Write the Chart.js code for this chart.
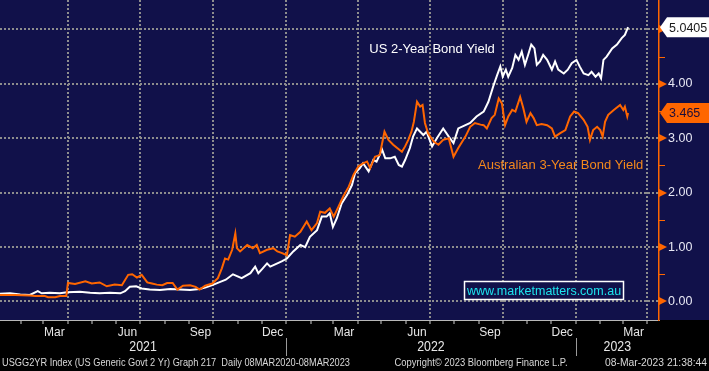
<!DOCTYPE html>
<html><head><meta charset="utf-8">
<style>html,body{margin:0;padding:0;background:#000;overflow:hidden}#wrap{width:709px;height:371px}</style>
<script src="https://cdn.jsdelivr.net/npm/chart.js@4.4.1/dist/chart.umd.min.js"></script>
</head><body><div id="wrap"><canvas id="c" width="709" height="371"></canvas></div>
<script>
// ---------------- data ----------------
// x values: days since 1 Jan 2021 (last point = 8 Mar 2023)
const seriesNames = ['US 2-Year Bond Yield', 'Australian 3-Year Bond Yield'];
const usDays = [
  3,17,30,42,52,57,67,80,89,105,
  118,130,143,156,162,168,176,183,193,206,
  219,231,244,256,264,272,282,289,298,309,
  320,326,330,335,341,345,354,360,366,374,
  383,389,395,404,410,416,420,424,429,435,
  442,448,452,458,462,469,475,479,486,490,
  496,502,507,511,515,521,525,530,534,538,
  542,549,555,563,570,576,582,591,597,605,
  614,620,626,631,635,638,642,645,650,654,
  658,662,666,670,674,678,681,685,689,694,
  700,704,708,715,720,725,731,735,740,746,
  750,755,759,762,765,769,776,782,788,792,
  796
];
const us2y = [
  0.14,0.15,0.13,0.12,0.19,0.15,0.16,0.15,0.17,0.18,
  0.16,0.15,0.16,0.15,0.19,0.27,0.28,0.24,0.22,0.21,
  0.23,0.22,0.21,0.23,0.26,0.30,0.36,0.40,0.50,0.43,
  0.52,0.64,0.52,0.60,0.70,0.64,0.70,0.74,0.79,0.92,
  1.04,1.00,1.19,1.31,1.56,1.56,1.62,1.37,1.53,1.80,
  1.96,2.14,2.36,2.45,2.54,2.39,2.60,2.57,2.79,2.63,
  2.63,2.66,2.51,2.48,2.60,2.82,3.03,3.18,3.12,3.06,
  3.12,2.85,3.00,3.18,3.03,2.91,3.18,3.24,3.28,3.40,
  3.49,3.67,3.95,4.16,4.32,4.13,4.26,4.13,4.29,4.53,
  4.44,4.59,4.35,4.53,4.72,4.65,4.35,4.41,4.53,4.44,
  4.26,4.41,4.26,4.19,4.26,4.38,4.44,4.32,4.19,4.16,
  4.22,4.13,4.19,4.10,4.44,4.50,4.65,4.72,4.84,4.90,
  5.0405
];
const auDays = [
  3,23,42,49,61,65,74,80,88,90,
  99,112,120,130,139,149,158,166,171,177,
  183,190,196,202,209,215,222,228,235,244,
  251,256,263,272,279,284,288,292,297,301,
  303,307,316,323,328,332,341,349,354,360,
  366,370,376,383,391,397,404,408,414,420,
  425,431,437,444,450,456,462,467,471,477,
  483,489,494,500,505,511,515,519,523,526,
  530,534,537,540,544,551,557,563,570,576,
  582,591,597,603,610,614,618,624,628,633,
  637,641,645,650,654,660,664,668,673,677,
  681,687,694,700,704,710,717,723,728,733,
  740,745,748,752,757,761,764,767,771,778,
  786,790,792,795,796
];
const au3y = [
  0.12,0.12,0.11,0.10,0.10,0.08,0.08,0.10,0.10,0.34,
  0.32,0.37,0.33,0.35,0.28,0.31,0.30,0.49,0.50,0.44,
  0.49,0.35,0.33,0.31,0.30,0.34,0.34,0.22,0.29,0.30,
  0.27,0.22,0.29,0.33,0.43,0.61,0.79,0.77,0.95,1.25,
  0.98,0.92,1.04,0.98,1.04,0.89,0.95,0.98,0.92,0.89,
  0.85,1.22,1.19,1.28,1.47,1.31,1.44,1.65,1.63,1.71,
  1.56,1.74,1.93,2.11,2.33,2.48,2.54,2.57,2.45,2.66,
  2.69,3.12,2.97,2.88,2.82,2.75,2.85,2.97,3.12,3.30,
  3.67,3.58,3.61,3.28,3.09,2.94,2.88,2.97,3.00,2.66,
  2.82,3.03,3.21,3.28,3.25,3.24,3.18,3.37,3.43,3.73,
  3.64,3.24,3.40,3.52,3.49,3.76,3.55,3.30,3.46,3.37,
  3.24,3.26,3.24,3.18,3.03,3.09,3.15,3.40,3.49,3.46,
  3.34,3.21,2.97,3.15,3.21,3.15,3.03,3.30,3.43,3.52,
  3.61,3.52,3.58,3.40,3.465
];
const yTickValues = [0, 1, 2, 3, 4, 5];
const xLabelMonths = ['2021-03','2021-06','2021-09','2021-12','2022-03','2022-06','2022-09','2022-12','2023-03'];
const xLabelTexts  = ['Mar','Jun','Sep','Dec','Mar','Jun','Sep','Dec','Mar'];
const yearLabels = ['2021', '2022', '2023'];
const footerTexts = [
  'USGG2YR Index (US Generic Govt 2 Yr) Graph 217  Daily 08MAR2020-08MAR2023',
  'Copyright\u00A9 2023 Bloomberg Finance L.P.',
  '08-Mar-2023 21:38:44'
];
const watermarkText = 'www.marketmatters.com.au';

// ---------------- helpers ----------------
const DAY = 86400000;
const EPOCH = Date.UTC(2021, 0, 1);
function dayNum(s) { const p = s.split('-').map(Number); return (Date.UTC(p[0], p[1]-1, p[2] || 1) - EPOCH) / DAY; }

const X_MIN = 4.4, X_MAX = 835;
const Y_MIN = -0.34, Y_MAX = 5.54;

const xTicks = [];
for (let y = 2021; y <= 2023; y++) for (let m = 1; m <= 12; m++) {
  const v = dayNum(y + '-' + String(m).padStart(2, '0') + '-01');
  if (v > X_MIN && v < X_MAX) xTicks.push({ value: v, label: '', grid: (m - 1) % 3 === 0, mark: true });
}
xLabelMonths.forEach((ym, i) => xTicks.push({ value: dayNum(ym + '-15'), label: xLabelTexts[i], grid: false, mark: false }));
xTicks.sort((a, b) => a.value - b.value);

const NAVY = '#11114a';
const GRID = '#8d8d8d';
const ORANGE = '#ff6600';
const SANS = "'Liberation Sans',Arial,sans-serif";

const bgPlugin = {
  id: 'bg',
  beforeDraw(chart) {
    const c = chart.ctx, a = chart.chartArea;
    c.save();
    c.fillStyle = '#000'; c.fillRect(0, 0, chart.width, chart.height);
    c.fillStyle = NAVY; c.fillRect(0, 0, chart.width, a.bottom);
    c.restore();
  }
};

function valueBox(c, x0, right, y, fill, textColor, text) {
  c.beginPath();
  c.moveTo(x0, y);
  c.lineTo(x0 + 7, y - 10);
  c.lineTo(right, y - 10);
  c.lineTo(right, y + 10);
  c.lineTo(x0 + 7, y + 10);
  c.closePath();
  c.fillStyle = fill; c.fill();
  c.fillStyle = textColor;
  c.font = '12.5px ' + SANS;
  c.textAlign = 'left'; c.textBaseline = 'middle';
  c.fillText(text, x0 + 9, y + 1);
}

// condensed text: real text squeezed horizontally to a target width
function condensedText(c, text, x, y, align, targetWidth) {
  const w = c.measureText(text).width;
  const k = Math.min(1, targetWidth / w);
  c.save();
  c.translate(x, y);
  c.scale(k, 1);
  c.textAlign = align;
  c.fillText(text, 0, 0);
  c.restore();
}

const overlayPlugin = {
  id: 'overlay',
  afterDraw(chart) {
    const c = chart.ctx, a = chart.chartArea;
    const xs = chart.scales.x, ys = chart.scales.y;
    c.save();
    // right axis markers
    c.fillStyle = ORANGE; c.strokeStyle = ORANGE; c.lineWidth = 1;
    yTickValues.forEach(v => {
      const py = Math.round(ys.getPixelForValue(v));
      c.beginPath(); c.moveTo(a.right, py - 4); c.lineTo(a.right + 8, py); c.lineTo(a.right, py + 4); c.closePath(); c.fill();
      if (v < 5) {
        const pm = Math.round(ys.getPixelForValue(v + 0.5)) + 0.5;
        c.beginPath(); c.moveTo(a.right, pm); c.lineTo(a.right + 6, pm); c.stroke();
      }
    });
    // series labels (anchored in data space)
    c.font = '13px ' + SANS; c.textAlign = 'center'; c.textBaseline = 'middle';
    c.fillStyle = '#ffffff';
    c.fillText(seriesNames[0], xs.getPixelForValue(549), ys.getPixelForValue(4.64));
    c.fillStyle = '#f5891c';
    c.fillText(seriesNames[1], xs.getPixelForValue(711), ys.getPixelForValue(2.50));
    // watermark
    const bx = 464.5, by = 281.5, bw = 159, bh = 18;
    c.fillStyle = NAVY; c.fillRect(bx, by, bw, bh);
    c.strokeStyle = '#ffffff'; c.lineWidth = 1.5; c.strokeRect(bx, by, bw, bh);
    c.font = '12.5px ' + SANS; c.fillStyle = '#1ee4ee'; c.textAlign = 'center';
    c.fillText(watermarkText, bx + bw / 2, by + bh / 2 + 1);
    // last value boxes
    const usLast = us2y[us2y.length - 1], auLast = au3y[au3y.length - 1];
    valueBox(c, a.right + 1, chart.width, ys.getPixelForValue(usLast), '#ffffff', '#1a1a1a', String(usLast));
    valueBox(c, a.right + 1, chart.width, ys.getPixelForValue(auLast), ORANGE, '#1c0d3a', String(auLast));
    // year labels & separators
    c.fillStyle = '#e6e6e6'; c.font = '15px ' + SANS; c.textBaseline = 'middle';
    yearLabels.forEach(yr => {
      const s = Math.max(X_MIN, dayNum(yr + '-01-01'));
      const e = Math.min(X_MAX, dayNum((+yr + 1) + '-01-01'));
      condensedText(c, yr, (xs.getPixelForValue(s) + xs.getPixelForValue(e)) / 2, 347, 'center', 27.5);
      const sep = dayNum(yr + '-01-01');
      if (sep > X_MIN) {
        const px = Math.round(xs.getPixelForValue(sep)) + 0.5;
        c.strokeStyle = '#9a9a9a'; c.lineWidth = 1;
        c.beginPath(); c.moveTo(px, 338); c.lineTo(px, 356); c.stroke();
      }
    });
    // footer
    c.font = '11px ' + SANS; c.fillStyle = '#d8d8d8'; c.textBaseline = 'middle';
    condensedText(c, footerTexts[0], 2, 363, 'left', 348);
    condensedText(c, footerTexts[1], 481, 363, 'center', 173);
    condensedText(c, footerTexts[2], 707, 363, 'right', 102);
    c.restore();
  }
};

new Chart(document.getElementById('c').getContext('2d'), {
  type: 'line',
  data: {
    datasets: [
      { label: seriesNames[1], data: auDays.map((d, i) => ({ x: d, y: au3y[i] })), borderColor: ORANGE, borderWidth: 2, pointRadius: 0, tension: 0 },
      { label: seriesNames[0], data: usDays.map((d, i) => ({ x: d, y: us2y[i] })), borderColor: '#ffffff', borderWidth: 2, pointRadius: 0, tension: 0 }
    ]
  },
  options: {
    responsive: false, animation: false, devicePixelRatio: 1, events: [],
    layout: { padding: 0 },
    plugins: { legend: { display: false }, tooltip: { enabled: false } },
    scales: {
      x: {
        type: 'linear', min: X_MIN, max: X_MAX,
        afterBuildTicks: s => { s.ticks = xTicks.map(t => ({ value: t.value })); },
        afterFit: s => { s.height = 51; s.paddingLeft = 0; s.paddingRight = 0; },
        ticks: {
          autoSkip: false, maxRotation: 0, minRotation: 0, padding: 1,
          color: '#e6e6e6', font: { family: SANS, size: 12 },
          callback: (v, i) => xTicks[i] ? xTicks[i].label : ''
        },
        grid: {
          color: ctx => (xTicks[ctx.index] && xTicks[ctx.index].grid) ? GRID : 'rgba(0,0,0,0)',
          lineWidth: 2,
          tickLength: 4, tickWidth: 1, tickBorderDash: [],
          tickColor: ctx => (xTicks[ctx.index] && xTicks[ctx.index].mark) ? '#d0d0d0' : 'rgba(0,0,0,0)'
        },
        border: { color: '#b8b8b8', width: 1, dash: [2, 2] }
      },
      y: {
        position: 'right', min: Y_MIN, max: Y_MAX,
        afterBuildTicks: s => { s.ticks = yTickValues.map(v => ({ value: v })); },
        afterFit: s => { s.width = 50; s.paddingTop = 0; s.paddingBottom = 0; },
        ticks: {
          padding: 9, color: '#e8e8f4', font: { family: SANS, size: 12.5 },
          callback: v => v === 5 ? '' : Number(v).toFixed(2)
        },
        grid: { color: GRID, lineWidth: 2, drawTicks: false },
        border: { color: ORANGE, width: 1.5, dash: [2, 2] }
      }
    }
  },
  plugins: [bgPlugin, overlayPlugin]
});
</script></body></html>
